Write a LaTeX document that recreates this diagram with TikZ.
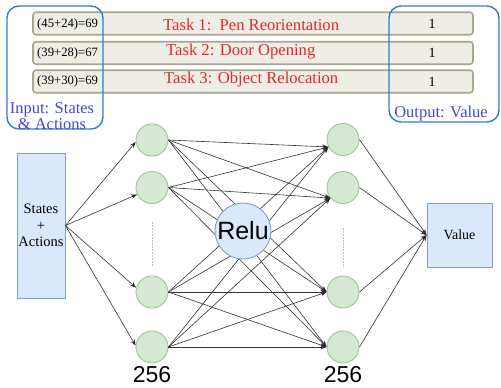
\documentclass[tikz,border=0pt]{standalone}
\usepackage{fontspec}
\setmainfont{Liberation Serif}
\newfontfamily\arialfont{Liberation Sans}
\usetikzlibrary{arrows.meta}
\definecolor{barfill}{HTML}{EEEDE6}
\definecolor{barline}{HTML}{A8A68C}
\definecolor{taskred}{HTML}{E8262B}
\definecolor{grpblue}{HTML}{2E7DD1}
\definecolor{lblblue}{HTML}{4646D8}
\definecolor{nodegreen}{HTML}{D5E8D4}
\definecolor{nodegreenline}{HTML}{9DC78E}
\definecolor{boxblue}{HTML}{DAE8FC}
\definecolor{boxblueline}{HTML}{7E9FD0}
\definecolor{edgegray}{HTML}{333333}
\definecolor{dotgreen}{HTML}{A9D09F}
\begin{document}
\begin{tikzpicture}[x=1pt,y=-1pt,
  bar/.style={draw=barline, fill=barfill, line width=1.6pt, rounded corners=3pt,
    minimum width=440pt, minimum height=22.5pt, inner sep=0pt},
  formula/.style={anchor=west, inner sep=0pt, font=\fontsize{12.7}{14}\selectfont},
  task/.style={anchor=west, inner sep=0pt, text=taskred, font=\fontsize{16.6}{18}\selectfont},
  val/.style={inner sep=0pt, font=\fontsize{14}{16}\selectfont},
  group/.style={draw=grpblue, line width=1.4pt, rounded corners=12pt, inner sep=0pt},
  grplabel/.style={text=lblblue, inner sep=0pt, align=center, font=\fontsize{16.5}{12}\selectfont},
  neuron/.style={circle, draw=nodegreenline, fill=nodegreen, line width=0.9pt,
    minimum size=32pt, inner sep=0pt},
  bluebox/.style={draw=boxblueline, fill=boxblue, line width=0.9pt, inner sep=0pt, align=center},
  conn/.style={draw=edgegray, line width=0.6pt, -{Stealth[length=6pt,width=4.5pt,fill=black]}},
  dots/.style={draw=dotgreen, line width=0.9pt, dash pattern=on 1.5pt off 1.5pt},
  sizelbl/.style={inner sep=0pt, font=\arialfont\fontsize{23}{26}\selectfont}
]
\useasboundingbox (0,0) rectangle (501,388);

% task bars
\node[bar] (bar1) at (253,23.5) {};
\node[bar] (bar2) at (253,53) {};
\node[bar] (bar3) at (253,81.5) {};

\node[formula] (f1) at (37,24) {(45+24)=69};
\node[formula] (f2) at (37,53) {(39+28)=67};
\node[formula] (f3) at (37,81.5) {(39+30)=69};

\node[task] (t1) at (163,25) {Task 1:\ \ Pen Reorientation};
\node[task] (t2) at (166,52) {Task 2: Door Opening};
\node[task] (t3) at (164,79.5) {Task 3: Object Relocation};

\node[val] (v1) at (432,24) {1};
\node[val] (v2) at (432,53) {1};
\node[val] (v3) at (432,81.5) {1};

% group frames
\node[group, minimum width=96pt, minimum height=123pt] (gin) at (55,67.5) {};
\node[group, minimum width=110pt, minimum height=116pt] (gout) at (444,64) {};
\node[grplabel] (lin) at (52,116) {Input: States\\\& Actions};
\node[grplabel] (lout) at (441,114) {Output: Value};

% network
\node[bluebox, minimum width=48pt, minimum height=145pt,
  font=\fontsize{14.5}{16.5}\selectfont] (inbox) at (41,225.5) {States\\+\\Actions};
\node[bluebox, minimum width=65pt, minimum height=64pt,
  font=\fontsize{14}{16}\selectfont] (value) at (459.5,235) {Value};

\node[neuron] (h1) at (152,140) {};
\node[neuron] (h2) at (152,187.5) {};
\node[neuron] (h3) at (152,292) {};
\node[neuron] (h4) at (152,347) {};
\node[neuron] (g1) at (343,139.5) {};
\node[neuron] (g2) at (343,187.5) {};
\node[neuron] (g3) at (343,292) {};
\node[neuron] (g4) at (343,347) {};

\coordinate (d1a) at (152,222);
\coordinate (d1b) at (152,267);
\coordinate (d2a) at (343,228);
\coordinate (d2b) at (343,268);
\draw[dots] (d1a) -- (d1b);
\draw[dots] (d2a) -- (d2b);

% input to first layer
\draw[conn] (inbox.east) -- (h1.187);
\draw[conn] (inbox.east) -- (h2.205);
\draw[conn] (inbox.east) -- (h3.165);
\draw[conn] (inbox.east) -- (h4.175);

% full connections
\foreach \s in {h1,h2,h3,h4}{
  \draw[conn] (\s.east) -- (g1.207);
  \draw[conn] (\s.east) -- (g2.220);
  \draw[conn] (\s.east) -- (g3.180);
  \draw[conn] (\s.east) -- (g4.180);
}

% second layer to value
\foreach \s in {g1,g2,g3,g4}{
  \draw[conn] (\s.east) -- (value.west);
}

\node[circle, draw=boxblueline, fill=boxblue, line width=0.9pt, minimum size=56pt,
  inner sep=0pt, font=\arialfont\fontsize{25}{28}\selectfont] (relu) at (243,231) {Relu};

\node[sizelbl] (n1) at (152,374.5) {256};
\node[sizelbl] (n2) at (343,374.5) {256};
\end{tikzpicture}
\end{document}
